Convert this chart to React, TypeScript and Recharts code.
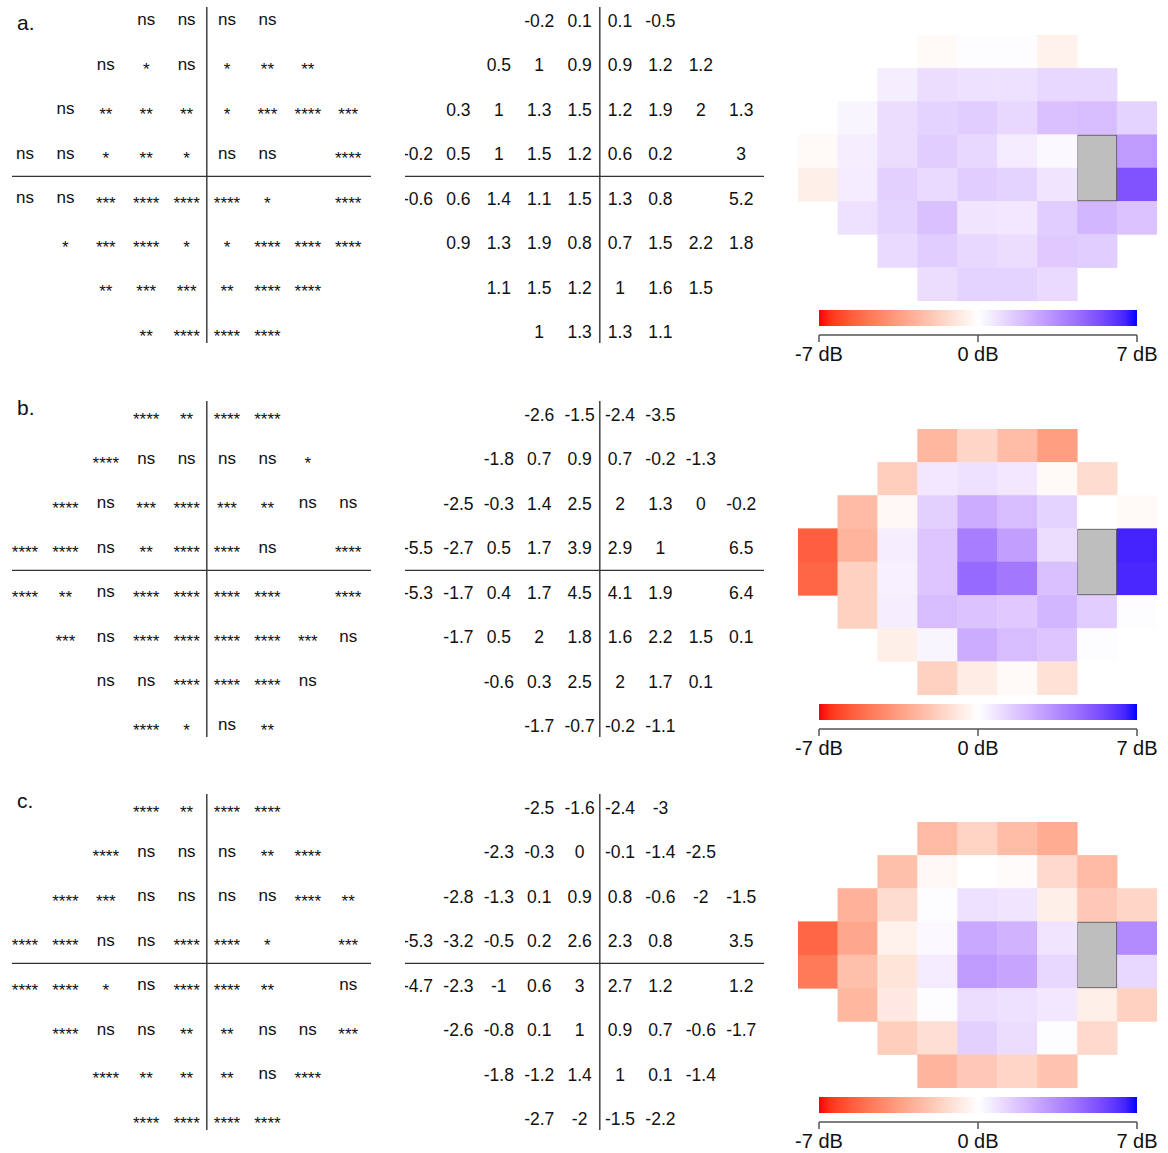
import React from "react";
import {
  ScatterChart,
  Scatter,
  XAxis,
  YAxis,
  ReferenceLine,
  ReferenceArea,
} from "recharts";

const FONT = '"Liberation Sans", Arial, sans-serif';

// 24-2 layout: first column used by each of the 8 rows
const rowStart = [4, 3, 2, 1, 1, 2, 3, 4];

// "" / null = blind spot
const sigA = [
  ["ns", "ns", "ns", "ns"],
  ["ns", "*", "ns", "*", "**", "**"],
  ["ns", "**", "**", "**", "*", "***", "****", "***"],
  ["ns", "ns", "*", "**", "*", "ns", "ns", "", "****"],
  ["ns", "ns", "***", "****", "****", "****", "*", "", "****"],
  ["*", "***", "****", "*", "*", "****", "****", "****"],
  ["**", "***", "***", "**", "****", "****"],
  ["**", "****", "****", "****"],
];

const valuesA = [
  [-0.2, 0.1, 0.1, -0.5],
  [0.5, 1, 0.9, 0.9, 1.2, 1.2],
  [0.3, 1, 1.3, 1.5, 1.2, 1.9, 2, 1.3],
  [-0.2, 0.5, 1, 1.5, 1.2, 0.6, 0.2, null, 3],
  [-0.6, 0.6, 1.4, 1.1, 1.5, 1.3, 0.8, null, 5.2],
  [0.9, 1.3, 1.9, 0.8, 0.7, 1.5, 2.2, 1.8],
  [1.1, 1.5, 1.2, 1, 1.6, 1.5],
  [1, 1.3, 1.3, 1.1],
];

const sigB = [
  ["****", "**", "****", "****"],
  ["****", "ns", "ns", "ns", "ns", "*"],
  ["****", "ns", "***", "****", "***", "**", "ns", "ns"],
  ["****", "****", "ns", "**", "****", "****", "ns", "", "****"],
  ["****", "**", "ns", "****", "****", "****", "****", "", "****"],
  ["***", "ns", "****", "****", "****", "****", "***", "ns"],
  ["ns", "ns", "****", "****", "****", "ns"],
  ["****", "*", "ns", "**"],
];

const valuesB = [
  [-2.6, -1.5, -2.4, -3.5],
  [-1.8, 0.7, 0.9, 0.7, -0.2, -1.3],
  [-2.5, -0.3, 1.4, 2.5, 2, 1.3, 0, -0.2],
  [-5.5, -2.7, 0.5, 1.7, 3.9, 2.9, 1, null, 6.5],
  [-5.3, -1.7, 0.4, 1.7, 4.5, 4.1, 1.9, null, 6.4],
  [-1.7, 0.5, 2, 1.8, 1.6, 2.2, 1.5, 0.1],
  [-0.6, 0.3, 2.5, 2, 1.7, 0.1],
  [-1.7, -0.7, -0.2, -1.1],
];

const sigC = [
  ["****", "**", "****", "****"],
  ["****", "ns", "ns", "ns", "**", "****"],
  ["****", "***", "ns", "ns", "ns", "ns", "****", "**"],
  ["****", "****", "ns", "ns", "****", "****", "*", "", "***"],
  ["****", "****", "*", "ns", "****", "****", "**", "", "ns"],
  ["****", "ns", "ns", "**", "**", "ns", "ns", "***"],
  ["****", "**", "**", "**", "ns", "****"],
  ["****", "****", "****", "****"],
];

const valuesC = [
  [-2.5, -1.6, -2.4, -3],
  [-2.3, -0.3, 0, -0.1, -1.4, -2.5],
  [-2.8, -1.3, 0.1, 0.9, 0.8, -0.6, -2, -1.5],
  [-5.3, -3.2, -0.5, 0.2, 2.6, 2.3, 0.8, null, 3.5],
  [-4.7, -2.3, -1, 0.6, 3, 2.7, 1.2, null, 1.2],
  [-2.6, -0.8, 0.1, 1, 0.9, 0.7, -0.6, -1.7],
  [-1.8, -1.2, 1.4, 1, 0.1, -1.4],
  [-2.7, -2, -1.5, -2.2],
];

const panelLabels = ["a.", "b.", "c."];
const colorbarTicks = [-7, 0, 7];
const LIMIT = 7;

// ---- Lab interpolation (red - white - blue) ----
const toLin = (c: number) => {
  c /= 255;
  return c <= 0.04045 ? c / 12.92 : Math.pow((c + 0.055) / 1.055, 2.4);
};
const fromLin = (c: number) => {
  const v = c <= 0.0031308 ? 12.92 * c : 1.055 * Math.pow(c, 1 / 2.4) - 0.055;
  return Math.round(Math.max(0, Math.min(1, v)) * 255);
};
const WN = [0.95047, 1, 1.08883];
const f = (t: number) => (t > 0.008856 ? Math.cbrt(t) : 7.787 * t + 16 / 116);
const finv = (t: number) => (t * t * t > 0.008856 ? t * t * t : (t - 16 / 116) / 7.787);

function rgbToLab(rgb: number[]) {
  const [r, g, b] = rgb.map(toLin);
  const X = (0.4124564 * r + 0.3575761 * g + 0.1804375 * b) / WN[0];
  const Y = (0.2126729 * r + 0.7151522 * g + 0.072175 * b) / WN[1];
  const Z = (0.0193339 * r + 0.119192 * g + 0.9503041 * b) / WN[2];
  return [116 * f(Y) - 16, 500 * (f(X) - f(Y)), 200 * (f(Y) - f(Z))];
}

function labToHex(lab: number[]) {
  const fy = (lab[0] + 16) / 116;
  const fx = fy + lab[1] / 500;
  const fz = fy - lab[2] / 200;
  const X = WN[0] * finv(fx);
  const Y = WN[1] * finv(fy);
  const Z = WN[2] * finv(fz);
  const r = 3.2404542 * X - 1.5371385 * Y - 0.4985314 * Z;
  const g = -0.969266 * X + 1.8760108 * Y + 0.041556 * Z;
  const b = 0.0556434 * X - 0.2040259 * Y + 1.0572252 * Z;
  return "#" + [r, g, b].map((c) => fromLin(c).toString(16).padStart(2, "0")).join("");
}

const LAB_RED = rgbToLab([255, 0, 0]);
const LAB_WHITE = rgbToLab([255, 255, 255]);
const LAB_BLUE = rgbToLab([0, 0, 255]);

function colorFor(v: number) {
  const t = Math.max(-1, Math.min(1, v / LIMIT));
  const end = t < 0 ? LAB_RED : LAB_BLUE;
  const k = Math.abs(t);
  return labToHex(LAB_WHITE.map((w, i) => w + (end[i] - w) * k));
}

// ---- data to points ----
function toCells(rows: any[][]) {
  return rows.flatMap((r, i) =>
    r
      .map((v, j) => ({ col: rowStart[i] + j, row: i + 1, v }))
      .filter((c) => c.v !== null && c.v !== "")
  );
}

// ---- layout ----
const ROW_TOPS = [0, 393.5, 787];
const LABEL_BASE = [30, 415, 808];
const GRID_X: [number, number] = [0.678, 9.564];
const GRID_Y: [number, number] = [0.69, 8.25];
const CELL_W = 359 / 9;
const CELL_H = 266 / 8;
const LINE = "#333";

const SigText = (props: any) => {
  const { cx, cy, payload } = props;
  const star = String(payload.v).startsWith("*");
  return (
    <text
      x={cx}
      y={cy + (star ? 10 : 4.5)}
      textAnchor="middle"
      fontSize={17}
      fontFamily={FONT}
      fill="#111"
    >
      {payload.v}
    </text>
  );
};

const ValueText = (props: any) => {
  const { cx, cy, payload } = props;
  return (
    <text x={cx} y={cy + 6.2} textAnchor="middle" fontSize={17.5} fontFamily={FONT} fill="#111">
      {String(payload.v)}
    </text>
  );
};

const HeatCell = (props: any) => {
  const { cx, cy, payload } = props;
  const c = colorFor(payload.v);
  return (
    <rect
      x={cx - CELL_W / 2}
      y={cy - CELL_H / 2}
      width={CELL_W}
      height={CELL_H}
      fill={c}
      stroke={c}
      strokeWidth={0.5}
    />
  );
};

const Hidden = () => <g />;

function GridChart({ data, shape, margin, width }: any) {
  return (
    <ScatterChart width={width} height={350} margin={margin}>
      <XAxis type="number" dataKey="col" domain={GRID_X} allowDataOverflow hide />
      <YAxis type="number" dataKey="row" domain={GRID_Y} allowDataOverflow reversed hide />
      <ReferenceLine x={5.5} stroke={LINE} strokeWidth={1.4} />
      <ReferenceLine y={4.5} stroke={LINE} strokeWidth={1.4} />
      <Scatter data={data} shape={shape} isAnimationActive={false} />
    </ScatterChart>
  );
}

function Panel({ idx, sig, values }: any) {
  const top = ROW_TOPS[idx];
  const sigCells = toCells(sig);
  const valCells = toCells(values);
  const gid = `cbar${idx}`;
  return (
    <>
      <div
        style={{
          position: "absolute",
          left: 17,
          top: LABEL_BASE[idx] - 17.8,
          fontFamily: FONT,
          fontSize: 21,
          lineHeight: "21px",
          color: "#111",
        }}
      >
        {panelLabels[idx]}
      </div>
      <div style={{ position: "absolute", left: 0, top }}>
        <GridChart
          data={sigCells}
          shape={SigText}
          width={380}
          margin={{ top: 7, bottom: 7, left: 12, right: 9 }}
        />
      </div>
      <div style={{ position: "absolute", left: 396, top }}>
        <GridChart
          data={valCells}
          shape={ValueText}
          width={374}
          margin={{ top: 7, bottom: 7, left: 9, right: 6 }}
        />
      </div>
      <div style={{ position: "absolute", left: 790, top }}>
        <ScatterChart width={378} height={305} margin={{ top: 35, bottom: 4, left: 8, right: 11 }}>
          <XAxis type="number" dataKey="col" domain={[0.5, 9.5]} allowDataOverflow hide />
          <YAxis type="number" dataKey="row" domain={[0.5, 8.5]} allowDataOverflow reversed hide />
          <Scatter data={valCells} shape={HeatCell} isAnimationActive={false} />
          <ReferenceArea
            x1={7.5}
            x2={8.5}
            y1={3.5}
            y2={5.5}
            fill="#bebebe"
            fillOpacity={1}
            stroke="#333"
            strokeWidth={1.5}
          />
        </ScatterChart>
      </div>
      <div style={{ position: "absolute", left: 790, top: top + 300 }}>
        <ScatterChart width={378} height={70} margin={{ top: 10, bottom: 5, left: 29, right: 31 }}>
          <defs>
            <linearGradient id={gid} x1="0" y1="0" x2="1" y2="0">
              {Array.from({ length: 29 }, (_, i) => (
                <stop
                  key={i}
                  offset={i / 28}
                  stopColor={colorFor(-LIMIT + (2 * LIMIT * i) / 28)}
                />
              ))}
            </linearGradient>
          </defs>
          <XAxis
            type="number"
            dataKey="x"
            domain={[-LIMIT, LIMIT]}
            ticks={colorbarTicks}
            interval={0}
            allowDataOverflow
            height={30}
            tickSize={7}
            tickMargin={5}
            axisLine={{ stroke: "#555", strokeWidth: 1.5 }}
            tickLine={{ stroke: "#555", strokeWidth: 1.5 }}
            tick={{ fontSize: 20, fill: "#111", fontFamily: FONT }}
            tickFormatter={(v: number) => `${v} dB`}
          />
          <YAxis type="number" dataKey="y" domain={[0, 1]} allowDataOverflow hide />
          <ReferenceArea
            x1={-LIMIT}
            x2={LIMIT}
            y1={0.36}
            y2={1}
            fill={`url(#${gid})`}
            fillOpacity={1}
            stroke="none"
          />
          <Scatter
            data={colorbarTicks.map((x) => ({ x, y: 0 }))}
            shape={Hidden}
            isAnimationActive={false}
          />
        </ScatterChart>
      </div>
    </>
  );
}

export default function App() {
  return (
    <div
      style={{
        position: "absolute",
        left: 0,
        top: 0,
        width: 1168,
        height: 1153,
        background: "#fff",
      }}
    >
      <Panel idx={0} sig={sigA} values={valuesA} />
      <Panel idx={1} sig={sigB} values={valuesB} />
      <Panel idx={2} sig={sigC} values={valuesC} />
    </div>
  );
}
